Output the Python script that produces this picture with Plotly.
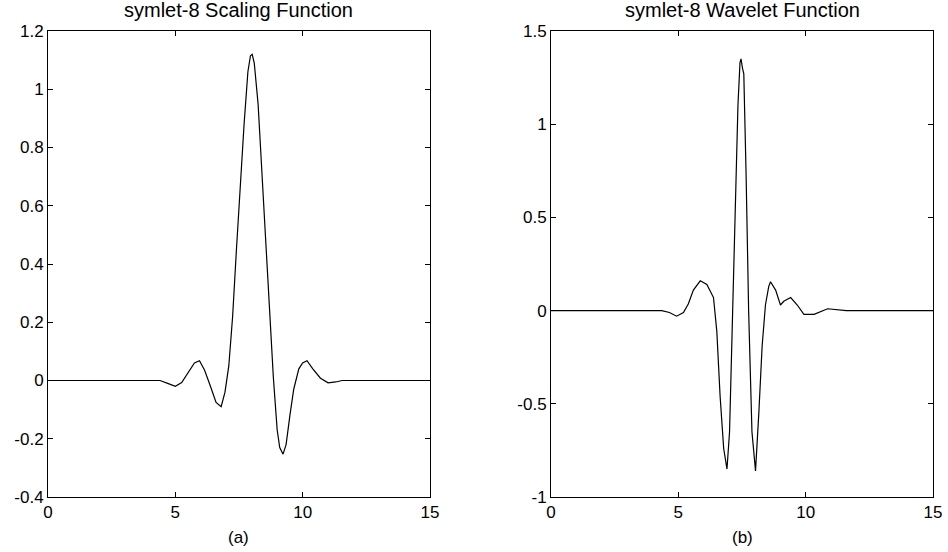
import plotly.graph_objects as go
from plotly.subplots import make_subplots

# symlet-8 scaling function
phi_x = [0, 4.4, 4.7, 5.0, 5.25, 5.5, 5.75, 5.95, 6.15, 6.4, 6.6, 6.8, 6.95, 7.1, 7.25,
         7.4, 7.55, 7.7, 7.85, 7.95, 8.02, 8.1, 8.25, 8.4, 8.55, 8.7, 8.85, 9.0, 9.1,
         9.23, 9.35, 9.5, 9.65, 9.85, 10.0, 10.17, 10.4, 10.7, 11.0, 11.3, 11.55, 15]
phi_y = [0, 0, -0.01, -0.02, -0.007, 0.025, 0.06, 0.068, 0.035, -0.025, -0.075, -0.09,
         -0.04, 0.05, 0.22, 0.45, 0.67, 0.88, 1.06, 1.115, 1.12, 1.09, 0.95, 0.72, 0.47,
         0.22, 0.01, -0.17, -0.23, -0.253, -0.22, -0.12, -0.03, 0.04, 0.06, 0.068, 0.04,
         0.008, -0.008, -0.005, 0, 0]

# symlet-8 wavelet function
psi_x = [0, 4.35, 4.65, 4.93, 5.2, 5.39, 5.59, 5.86, 6.12, 6.38, 6.51, 6.64, 6.78, 6.91,
         7.01, 7.14, 7.24, 7.34, 7.42, 7.46, 7.52, 7.57, 7.66, 7.76, 7.89, 8.03, 8.16,
         8.29, 8.42, 8.55, 8.62, 8.82, 9.01, 9.14, 9.41, 9.67, 9.93, 10.33, 10.86, 11.25,
         11.6, 15]
psi_y = [0, 0, -0.01, -0.03, -0.01, 0.035, 0.11, 0.16, 0.14, 0.07, -0.11, -0.46, -0.74,
         -0.85, -0.65, 0.0, 0.55, 1.1, 1.33, 1.35, 1.3, 1.27, 0.73, 0.0, -0.65, -0.86,
         -0.55, -0.19, 0.03, 0.13, 0.155, 0.11, 0.03, 0.05, 0.07, 0.03, -0.02, -0.02,
         0.01, 0.005, 0, 0]

titles = ["symlet-8 Scaling Function", "symlet-8 Wavelet Function"]
sub_labels = ["(a)", "(b)"]
x_ticks = [0, 5, 10, 15]
y_ticks_a = [-0.4, -0.2, 0, 0.2, 0.4, 0.6, 0.8, 1, 1.2]
y_tick_text_a = ["-0.4", "-0.2", "0", "0.2", "0.4", "0.6", "0.8", "1", "1.2"]
y_ticks_b = [-1, -0.5, 0, 0.5, 1, 1.5]
y_tick_text_b = ["-1", "-0.5", "0", "0.5", "1", "1.5"]

FONT = "Liberation Sans, Arial, sans-serif"

fig = make_subplots(rows=1, cols=2)
fig.add_trace(go.Scatter(x=phi_x, y=phi_y, mode="lines",
                         line=dict(color="black", width=1.2), showlegend=False), row=1, col=1)
fig.add_trace(go.Scatter(x=psi_x, y=psi_y, mode="lines",
                         line=dict(color="black", width=1.2), showlegend=False), row=1, col=2)

axis_common = dict(showline=True, linecolor="black", linewidth=1, mirror="ticks",
                   ticks="inside", ticklen=5, tickcolor="black", showgrid=False,
                   zeroline=False, automargin=False,
                   tickfont=dict(family=FONT, size=17, color="black"))

fig.update_xaxes(range=[0, 15], tickvals=x_ticks, ticktext=[str(v) for v in x_ticks],
                 **axis_common)
fig.update_yaxes(range=[-0.4, 1.2], tickvals=y_ticks_a, ticktext=y_tick_text_a,
                 row=1, col=1, **axis_common)
fig.update_yaxes(range=[-1, 1.5], tickvals=y_ticks_b, ticktext=y_tick_text_b,
                 row=1, col=2, **axis_common)

fig.layout.xaxis.domain = [0, 0.4316]
fig.layout.xaxis2.domain = [0.5684, 1]

annotations = []
for i, (t, s) in enumerate(zip(titles, sub_labels)):
    xref = "x domain" if i == 0 else "x2 domain"
    yref = "y domain" if i == 0 else "y2 domain"
    annotations.append(dict(text=t, x=0.5, y=1, xref=xref, yref=yref, showarrow=False,
                            yanchor="middle", yshift=21,
                            font=dict(family=FONT, size=20, color="black")))
    annotations.append(dict(text=s, x=0.5, y=0, xref=xref, yref=yref, showarrow=False,
                            yanchor="middle", yshift=-40,
                            font=dict(family=FONT, size=17, color="black")))
fig.update_layout(annotations=annotations)

fig.update_layout(width=948, height=552, margin=dict(l=48, r=15, t=31, b=55),
                  plot_bgcolor="white", paper_bgcolor="white")

# remove the browser's default 8px body margin so the figure fills the window exactly
fig.write_html("out.html", config={"displayModeBar": False},
               post_script="document.body.style.margin='0';document.body.style.overflow='hidden';")
